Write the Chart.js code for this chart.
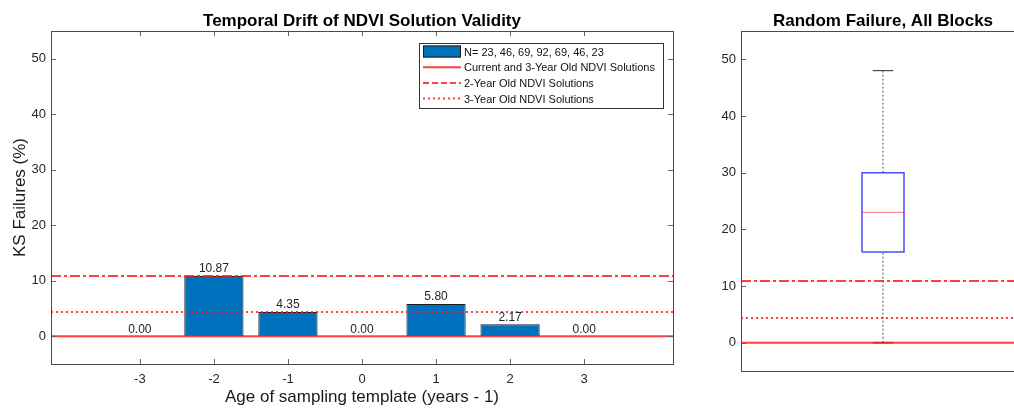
<!DOCTYPE html>
<html lang="en">
<head>
  <meta charset="utf-8" />
  <title>Temporal Drift of NDVI Solution Validity</title>
  <script src="https://cdn.jsdelivr.net/npm/chart.js"></script>
  <style>
    html, body { margin: 0; padding: 0; background: #fff; overflow: hidden; width: 1014px; height: 410px; }
    #driftChart { position: absolute; left: 0; top: 0; }
    #boxChart { position: absolute; left: 690px; top: 0; }
  </style>
</head>
<body>
  <canvas id="driftChart" width="700" height="410"></canvas>
  <canvas id="boxChart" width="360" height="410"></canvas>

  <script>
    // data
    const ages = [-3, -2, -1, 0, 1, 2, 3];
    const ksFailures = [0.00, 10.87, 4.35, 0.00, 5.80, 2.17, 0.00];
    const ageTicks = [-3, -2, -1, 0, 1, 2, 3];
    const yTicks = [0, 10, 20, 30, 40, 50];
    const refLevels = [0, 10.87, 4.35]; // current/3yr, 2yr, 3yr
    const legendLabels = [
      'N= 23, 46, 69, 92, 69, 46, 23',
      'Current and 3-Year Old NDVI Solutions',
      '2-Year Old NDVI Solutions',
      '3-Year Old NDVI Solutions'
    ];
    // random failure box: lower whisker, q1, median, q3, upper whisker
    const boxValues = [0, 16, 23, 30, 48];

    const FONT = "'Liberation Sans', Arial, Helvetica, sans-serif";
    const TEXT = '#262626';
    const BLUE = '#0072BD';
    const RED = 'rgba(255, 30, 30, 0.85)';
    const refDashes = [[], [10, 3, 3, 3], [2, 3]];
    const xLim = [-4.2, 4.2];
    const yLim = [-5, 55];

    Chart.defaults.font.family = FONT;
    Chart.defaults.color = TEXT;

    // matlab-ish box with inward ticks
    const framePlugin = {
      id: 'frame',
      afterDatasetsDraw(chart, args, opts) {
        const { ctx, chartArea: a, scales } = chart;
        ctx.save();
        ctx.strokeStyle = '#666';
        ctx.lineWidth = 1;
        ctx.beginPath();
        scales.y.ticks.forEach(t => {
          const y = Math.round(scales.y.getPixelForValue(t.value)) + 0.5;
          ctx.moveTo(a.left, y); ctx.lineTo(a.left + 5, y);
          if (opts.rightTicks) { ctx.moveTo(a.right, y); ctx.lineTo(a.right - 5, y); }
        });
        if (opts.xTicks) {
          scales.x.ticks.forEach(t => {
            const x = Math.round(scales.x.getPixelForValue(t.value)) + 0.5;
            ctx.moveTo(x, a.bottom); ctx.lineTo(x, a.bottom - 5);
            ctx.moveTo(x, a.top); ctx.lineTo(x, a.top + 5);
          });
        }
        ctx.stroke();
        ctx.strokeStyle = '#4a4a4a';
        ctx.strokeRect(Math.round(a.left) + 0.5, Math.round(a.top) + 0.5, Math.round(a.width), Math.round(a.height));
        ctx.restore();
      }
    };

    // title centred over the axes, not the canvas
    const axesTitlePlugin = {
      id: 'axesTitle',
      afterDraw(chart, args, opts) {
        const { ctx, chartArea: a } = chart;
        ctx.save();
        ctx.font = 'bold 17px ' + FONT;
        ctx.fillStyle = '#000';
        ctx.textAlign = 'center';
        ctx.textBaseline = 'middle';
        ctx.fillText(opts.text, (a.left + a.right) / 2, a.top - 10);
        ctx.restore();
      }
    };

    const barLabelPlugin = {
      id: 'barLabels',
      afterDatasetsDraw(chart) {
        const { ctx } = chart;
        const meta = chart.getDatasetMeta(0);
        ctx.save();
        ctx.font = '12px ' + FONT;
        ctx.fillStyle = TEXT;
        ctx.textAlign = 'center';
        ctx.textBaseline = 'bottom';
        meta.data.forEach((bar, i) => {
          ctx.fillText(ksFailures[i].toFixed(2), bar.x, bar.y - 1);
        });
        ctx.restore();
      }
    };

    const legendPlugin = {
      id: 'boxLegend',
      afterDraw(chart) {
        const { ctx, chartArea: a } = chart;
        const w = 244, h = 65;
        const left = a.right - 10 - w, top = a.top + 12;
        ctx.save();
        ctx.fillStyle = '#fff';
        ctx.fillRect(left, top, w, h);
        ctx.strokeStyle = '#333';
        ctx.lineWidth = 1;
        ctx.strokeRect(left + 0.5, top + 0.5, w, h);
        ctx.font = '11px ' + FONT;
        ctx.textBaseline = 'middle';
        legendLabels.forEach((label, i) => {
          const cy = top + 8.5 + i * 15.7;
          if (i === 0) {
            ctx.fillStyle = BLUE;
            ctx.fillRect(left + 4, cy - 6, 38, 12);
            ctx.strokeStyle = '#1c1c1c';
            ctx.strokeRect(left + 4.5, cy - 5.5, 37, 11);
          } else {
            ctx.strokeStyle = RED;
            ctx.lineWidth = 2;
            ctx.setLineDash(i === 2 ? [6, 3] : refDashes[i - 1]);
            ctx.beginPath();
            ctx.moveTo(left + 4, cy); ctx.lineTo(left + 42, cy);
            ctx.stroke();
            ctx.setLineDash([]);
            ctx.lineWidth = 1;
          }
          ctx.fillStyle = '#111';
          ctx.fillText(label, left + 45, cy + 1);
        });
        ctx.restore();
      }
    };

    function refLineSets(x0, x1) {
      return refLevels.map((lvl, i) => ({
        type: 'line',
        data: [{ x: x0, y: lvl }, { x: x1, y: lvl }],
        borderColor: RED,
        borderWidth: 2,
        borderDash: refDashes[i],
        pointRadius: 0,
        order: 0
      }));
    }

    const yAxis = {
      type: 'linear',
      min: yLim[0],
      max: yLim[1],
      afterBuildTicks: s => { s.ticks = yTicks.map(v => ({ value: v })); },
      afterFit: s => { s.width = 51; },
      grid: { display: false, drawTicks: false },
      border: { display: false },
      ticks: { padding: 5, font: { size: 13 }, color: TEXT }
    };

    new Chart(document.getElementById('driftChart'), {
      data: {
        datasets: [
          {
            type: 'bar',
            data: ages.map((a, i) => ({ x: a, y: ksFailures[i] })),
            backgroundColor: BLUE,
            borderColor: '#1c1c1c',
            borderWidth: 1,
            borderSkipped: false,
            barPercentage: 0.8,
            categoryPercentage: 1,
            order: 1
          },
          ...refLineSets(xLim[0], xLim[1])
        ]
      },
      options: {
        responsive: false,
        animation: false,
        events: [],
        layout: { padding: { left: 0, right: 27, top: 31, bottom: 0 } },
        plugins: {
          legend: { display: false },
          tooltip: { enabled: false },
          title: { display: false },
          axesTitle: { text: 'Temporal Drift of NDVI Solution Validity' },
          frame: { xTicks: true, rightTicks: true }
        },
        scales: {
          x: {
            type: 'linear',
            min: xLim[0],
            max: xLim[1],
            offset: false,
            afterBuildTicks: s => { s.ticks = ageTicks.map(v => ({ value: v })); },
            afterFit: s => { s.height = 46; },
            grid: { display: false, drawTicks: false },
            border: { display: false },
            ticks: { padding: 8, font: { size: 13 }, color: TEXT },
            title: {
              display: true,
              text: 'Age of sampling template (years - 1)',
              color: '#1a1a1a',
              font: { size: 17 },
              padding: { top: 0, bottom: 2 }
            }
          },
          y: {
            ...yAxis,
            title: {
              display: true,
              text: 'KS Failures (%)',
              color: '#1a1a1a',
              font: { size: 17 },
              padding: { top: 10, bottom: 0 }
            }
          }
        }
      },
      plugins: [framePlugin, barLabelPlugin, legendPlugin, axesTitlePlugin]
    });

    // right panel: box plot built from line segments on a linear x scale
    const boxX = 1, boxHalf = 0.074, capHalf = 0.036;
    const [wLo, q1, med, q3, wHi] = boxValues;
    const seg = (pts, color, width, dash) => ({
      type: 'line',
      data: pts.map(([x, y]) => ({ x, y })),
      borderColor: color,
      borderWidth: width,
      borderDash: dash || [],
      pointRadius: 0,
      order: 0
    });

    new Chart(document.getElementById('boxChart'), {
      data: {
        datasets: [
          ...refLineSets(0.5, 1.5),
          seg([[boxX, q3], [boxX, wHi]], '#555', 1, [2, 2]),
          seg([[boxX, wLo], [boxX, q1]], '#555', 1, [2, 2]),
          seg([[boxX - capHalf, wHi], [boxX + capHalf, wHi]], '#222', 1),
          seg([[boxX - capHalf, wLo], [boxX + capHalf, wLo]], '#7a1010', 1.5),
          seg([[boxX - boxHalf, q1], [boxX + boxHalf, q1], [boxX + boxHalf, q3], [boxX - boxHalf, q3], [boxX - boxHalf, q1]], 'rgba(30, 30, 255, 0.8)', 1.5),
          seg([[boxX - boxHalf, med], [boxX + boxHalf, med]], 'rgba(255, 60, 60, 0.7)', 1)
        ]
      },
      options: {
        responsive: false,
        animation: false,
        events: [],
        layout: { padding: { left: 0, right: 25, top: 31, bottom: 39 } },
        plugins: {
          legend: { display: false },
          tooltip: { enabled: false },
          title: { display: false },
          axesTitle: { text: 'Random Failure, All Blocks' },
          frame: { xTicks: false, rightTicks: false }
        },
        scales: {
          x: { type: 'linear', min: 0.5, max: 1.5, display: false },
          y: { ...yAxis }
        }
      },
      plugins: [framePlugin, axesTitlePlugin]
    });
  </script>
</body>
</html>
